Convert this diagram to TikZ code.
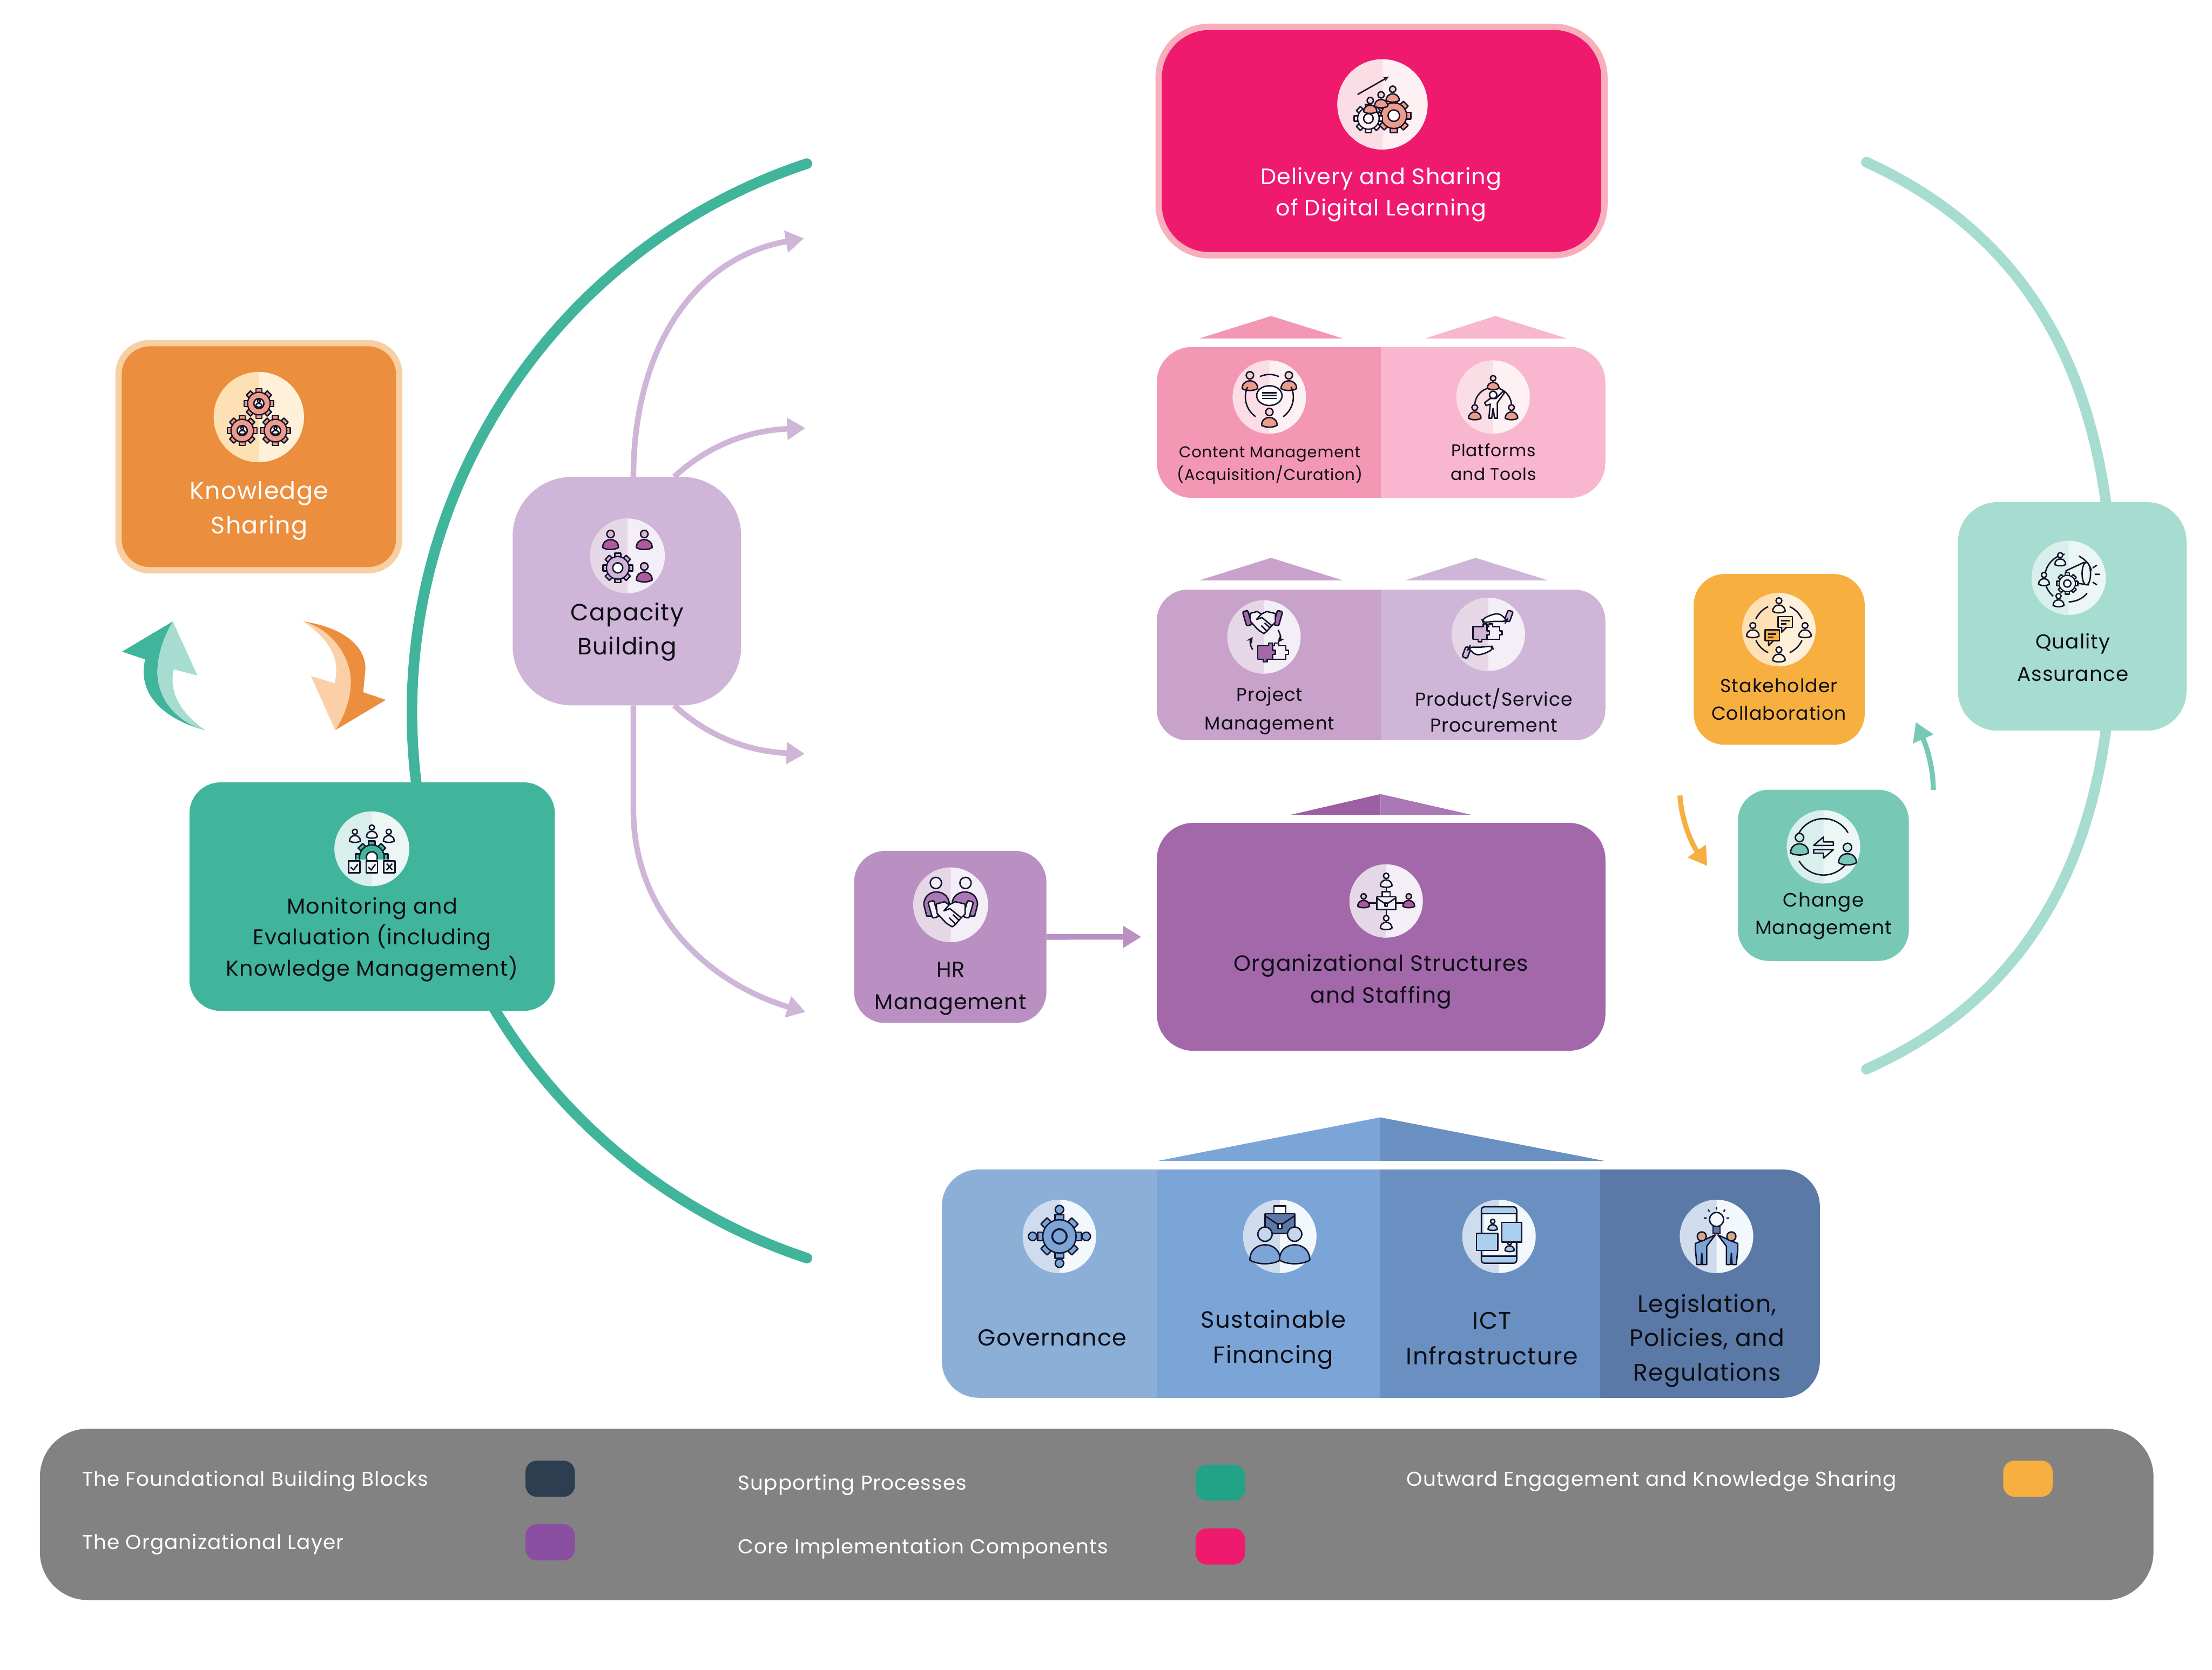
\documentclass[tikz,border=0pt]{standalone}
\usepackage{fontspec}
\setmainfont{Poppins}[LetterSpace=3]
\usetikzlibrary{arrows.meta,backgrounds}
\definecolor{iconink}{HTML}{14142B}
\definecolor{textink}{HTML}{0E0E16}
\definecolor{salmon}{HTML}{EE9C8A}
\definecolor{pinkmain}{HTML}{EF1A6E}
\definecolor{pinkedge}{HTML}{F9AEBB}
\definecolor{pinkmid}{HTML}{F397B4}
\definecolor{pinklite}{HTML}{F8B7CE}
\definecolor{pinkA}{HTML}{FBDDE6}
\definecolor{pinkB}{HTML}{FDF1F4}
\definecolor{orgmain}{HTML}{EB8E3D}
\definecolor{orgedge}{HTML}{F8CFA3}
\definecolor{orglite}{HTML}{FBCFA7}
\definecolor{orgA}{HTML}{FEE0B5}
\definecolor{orgB}{HTML}{FEF0D9}
\definecolor{amber}{HTML}{F7B040}
\definecolor{skin}{HTML}{D5A987}
\definecolor{teal}{HTML}{40B59B}
\definecolor{tealmid}{HTML}{77C9B5}
\definecolor{teallite}{HTML}{A7DCD0}
\definecolor{tealA}{HTML}{D9EFEB}
\definecolor{tealB}{HTML}{ECF7F5}
\definecolor{lilac}{HTML}{CFB5D7}
\definecolor{lilacmid}{HTML}{C8A2CA}
\definecolor{hrviolet}{HTML}{B990C1}
\definecolor{violet}{HTML}{A268AA}
\definecolor{violetdk}{HTML}{9B5FA2}
\definecolor{violetlt}{HTML}{AA78B4}
\definecolor{magenta}{HTML}{B05A9E}
\definecolor{lilacA}{HTML}{E6D7E7}
\definecolor{lilacB}{HTML}{F4EEF6}
\definecolor{blueA}{HTML}{8CAFD8}
\definecolor{blueB}{HTML}{7CA5D7}
\definecolor{blueC}{HTML}{6A8FC1}
\definecolor{blueD}{HTML}{5A79A6}
\definecolor{blueE}{HTML}{CFDCEE}
\definecolor{blueF}{HTML}{F3F8FD}
\definecolor{skyblue}{HTML}{A9CEEE}
\definecolor{legendgrey}{HTML}{828282}
\definecolor{keydark}{HTML}{2C3E50}
\definecolor{keygreen}{HTML}{22A387}
\definecolor{keypurple}{HTML}{8A4FA0}
\tikzset{
  box/.style={inner sep=0pt,outer sep=0pt},
  lbl/.style 2 args={align=center,inner sep=0pt,text=textink,font=\fontsize{#1}{#2}\selectfont},
  keytext/.style={anchor=west,inner sep=0pt,text=white,font=\fontsize{14.3}{16}\selectfont},
  keybox/.style={box,minimum width=35pt,minimum height=25.6pt,rounded corners=8pt},
  flow/.style={line width=4pt,draw=lilac,-{Triangle[length=13pt,width=15pt]}},
  iconline/.style={line width=1pt,draw=iconink,line join=round},
  pics/medal/.style n args={3}{code={
    \fill[#3] (0,0) circle (#1);
    \begin{scope}
      \clip (-#1,-#1) rectangle (0,#1);
      \fill[#2] (0,0) circle (#1);
    \end{scope}
  }},
  pics/person/.style={code={
    \draw[iconline,fill=white!55!#1] (0,-4.4) circle (2.6);
    \draw[iconline,fill=#1] (-5.5,5) .. controls (-5.5,-2.4) and (5.5,-2.4) .. (5.5,5) .. controls (3,6.8) and (-3,6.8) .. cycle;
  }},
  pics/gear/.style={code={
    \foreach \a in {0,45,...,315}
      \draw[iconline,fill=#1,rotate=\a] (-2,-10) rectangle (2,-6);
    \draw[iconline,fill=#1] (0,0) circle (7.6);
    \fill[#1] (0,0) circle (7.1);
    \draw[iconline,fill=white] (0,0) circle (3.4);
  }},
  pics/bubble/.style={code={
    \draw[iconline,fill=#1] (-6,-5) rectangle (6,4);
    \draw[iconline,fill=#1] (-3,4) -- (-3,8) -- (1,4);
    \draw[iconline] (-3.5,-1.6) -- (3.5,-1.6) (-3.5,1) -- (1,1);
  }},
  pics/briefcase/.style={code={
    \draw[iconline,fill=white] (-3,-9) rectangle (3,-5);
    \draw[iconline,fill=#1] (-7.5,-5) rectangle (7.5,5);
    \draw[iconline] (-7.5,-4) -- (0,1) -- (7.5,-4);
    \draw[iconline,fill=white] (-1,0) rectangle (1,2.5);
  }},
  pics/puzzle/.style 2 args={code={
    \draw[iconline,fill=#1] (-11,-5) -- (-3,-5) -- (-3,-7) -- (0,-7) -- (0,-5) -- (0,-1.5) -- (2,-1.5) -- (2,1.5) -- (0,1.5) -- (0,5) -- (-4,5) -- (-4,7) -- (-7,7) -- (-7,5) -- (-11,5) -- cycle;
    \draw[iconline,fill=#2] (0,-5) -- (1.5,-5) -- (1.5,-7) -- (4.5,-7) -- (4.5,-5) -- (10,-5) -- (10,-1.5) -- (12,-1.5) -- (12,1.5) -- (10,1.5) -- (10,5) -- (0,5) -- (0,1.5) -- (2,1.5) -- (2,-1.5) -- (0,-1.5) -- cycle;
  }},
  pics/handshake/.style 2 args={code={
    \draw[iconline,fill=#1,rounded corners=1pt,rotate around={16:(-11.5,-3.5)}] (-13.5,-9) rectangle (-9.5,2);
    \draw[iconline,fill=#1,rounded corners=1pt,rotate around={-16:(11.5,-3.5)}] (9.5,-9) rectangle (13.5,2);
    \draw[iconline,fill=#2] (-9.5,-7) -- (-4,-8.5) -- (-1,-6.5) -- (3,-8.5) -- (9.5,-7) -- (9.5,-0.5) -- (6,3) -- (3,6.5) -- (1,8) -- (-3,5.5) -- (-9,-1) -- cycle;
    \draw[iconline] (-1,-6.5) -- (-4.5,-2.5) -- (-0.5,-4) -- (7,2.2) (1.5,0) -- (5.5,3.8) (-1,2) -- (3,6);
  }},
  pics/openhand/.style={code={
    \draw[iconline,fill=#1,rounded corners=1pt,rotate around={-20:(10,-1)}] (8,-5) rectangle (12,3);
    \draw[iconline,fill=white,rounded corners=2.5pt] (8.5,2) -- (3,-3) -- (-3,-2) -- (-10,1.5) -- (-9,4) -- (-2,3) -- (8,3) -- cycle;
  }},
}
\begin{document}
\begin{tikzpicture}[x=1pt,y=-1pt,>=stealth]
  \useasboundingbox (0,0) rectangle (1568,1184);

  % boxes
  \node (delivery) [box,draw=pinkedge,line width=4.5pt,fill=pinkmain,rounded corners=36pt,minimum width=316pt,minimum height=162pt] at (979.3,100) {};
  \node (knowledge) [box,draw=orgedge,line width=4.5pt,fill=orgmain,rounded corners=22pt,minimum width=199pt,minimum height=161pt] at (183.5,323.8) {};
  \node (monitor) [box,fill=teal,rounded corners=22pt,minimum width=259pt,minimum height=162pt] at (263.8,635.7) {};
  \node (capacity) [box,fill=lilac,rounded corners=42pt,minimum width=162pt,minimum height=162pt] at (444.4,419.1) {};
  \node (hr) [box,fill=hrviolet,rounded corners=22pt,minimum width=136.3pt,minimum height=122pt] at (673.6,664.3) {};
  \node (org) [box,fill=violet,rounded corners=26pt,minimum width=318pt,minimum height=161.6pt] at (979,664.2) {};
  \node (quality) [box,fill=teallite,rounded corners=28pt,minimum width=162pt,minimum height=162pt] at (1468.9,437) {};
  \node (stake) [box,fill=amber,rounded corners=22pt,minimum width=121.2pt,minimum height=121.1pt] at (1261.2,467.5) {};
  \node (change) [box,fill=tealmid,rounded corners=22pt,minimum width=121.2pt,minimum height=121.4pt] at (1292.5,620.6) {};

  % split boxes
  \begin{scope}
    \clip [rounded corners=25pt] (820,246) rectangle (1138,353);
    \fill [pinkmid] (820,246) rectangle (979,353);
    \fill [pinklite] (979,246) rectangle (1138,353);
  \end{scope}
  \begin{scope}
    \clip [rounded corners=22pt] (820,418) rectangle (1138,525);
    \fill [lilacmid] (820,418) rectangle (979,525);
    \fill [lilac] (979,418) rectangle (1138,525);
  \end{scope}
  \begin{scope}
    \clip [rounded corners=26pt] (667.6,829.2) rectangle (1290,991);
    \fill [blueA] (667.6,829.2) rectangle (820,991);
    \fill [blueB] (820,829.2) rectangle (978.4,991);
    \fill [blueC] (978.4,829.2) rectangle (1134.2,991);
    \fill [blueD] (1134.2,829.2) rectangle (1290,991);
  \end{scope}

  % roofs
  \fill [pinkmid] (850,240) -- (901,224) -- (952,240) -- cycle;
  \fill [pinklite] (1010,240) -- (1060,224) -- (1111,240) -- cycle;
  \fill [lilacmid] (850,411.5) -- (901,395.5) -- (952,411.5) -- cycle;
  \fill [lilac] (996,411.5) -- (1046,395.5) -- (1097.5,411.5) -- cycle;
  \fill [violetdk] (915.3,577.6) -- (978.6,563) -- (978.6,577.6) -- cycle;
  \fill [violetlt] (978.6,577.6) -- (978.6,563) -- (1042.6,577.6) -- cycle;
  \fill [blueB] (820.5,823.1) -- (978.4,792.2) -- (978.4,823.1) -- cycle;
  \fill [blueC] (978.4,823.1) -- (978.4,792.2) -- (1137.6,823.1) -- cycle;

  % arcs and arrows behind the boxes
  \coordinate (meTop) at (572,116);
  \coordinate (meLeft) at (292,505);
  \coordinate (meBottom) at (572,892);
  \coordinate (qaTop) at (1323,115);
  \coordinate (qaRight) at (1498,437);
  \coordinate (qaBottom) at (1323,758);
  \coordinate (tipDelivery) at (570,169);
  \coordinate (tipContent) at (571,303.5);
  \coordinate (tipProject) at (570.5,534.5);
  \coordinate (tipOrg) at (571,717.5);
  \begin{scope}[on background layer]
    \draw [teal,line width=7.5pt,line cap=round] (meTop) .. controls (404.5,171.4) and (292,329) .. (meLeft) .. controls (292,681) and (404.5,836.6) .. (meBottom);
    \draw [teallite,line width=7.5pt,line cap=round] (qaTop) .. controls (1448,172) and (1498,282) .. (qaRight) .. controls (1498,592) and (1448,702) .. (qaBottom);
    \draw [flow] ([xshift=4.6pt]capacity.north) .. controls (449,250) and (490,183) .. (tipDelivery);
    \draw [flow] ([xshift=33.5pt]capacity.north) .. controls (505,313) and (535,305) .. (tipContent);
    \draw [flow] ([xshift=33.5pt]capacity.south) .. controls (505,525) and (535,533) .. (tipProject);
    \draw [flow] ([xshift=4.6pt]capacity.south) -- (449,574) .. controls (449,650) and (505,698) .. (tipOrg);
  \end{scope}
  \draw [flow,draw=hrviolet,shorten >=11pt] (hr) -- (org);

  \coordinate (amberFrom) at (1190.8,564);
  \coordinate (amberTip) at (1210.2,614);
  \coordinate (tealFrom) at (1370.4,560);
  \coordinate (tealTip) at (1358,512);
  \draw [amber,line width=3.6pt,-{Triangle[length=13pt,width=15pt]}] (amberFrom) .. controls (1192,582) and (1199,598) .. (amberTip);
  \draw [tealmid,line width=3.6pt,-{Triangle[length=13pt,width=15pt]}] (tealFrom) .. controls (1370.5,545) and (1366,530) .. (tealTip);

  % two tone arrows
  \fill [teal] (122.5,440.6) -- (86.5,462) -- (102.9,467.5) .. controls (97,492) and (116,510) .. (145.5,517.7) .. controls (125,505) and (111,490) .. (111.6,475.5) .. controls (112,462) and (117,450) .. cycle;
  \fill [teallite] (122.5,440.6) -- (140,479) -- (123.2,474.5) .. controls (119,492) and (130,507) .. (145.5,517.7) .. controls (125,512) and (111,495) .. (111.6,475.5) .. controls (112,462) and (117,450) .. cycle;
  \fill [orgmain] (214.9,440.6) .. controls (245,445) and (262,460) .. (258.6,478.6) -- (257.5,490.8) -- (273.5,496.2) -- (237.6,517.7) .. controls (244,508) and (249,495) .. (248.6,481.8) .. controls (248,465) and (235,450) .. cycle;
  \fill [orglite] (214.9,440.6) .. controls (235,446) and (248,465) .. (248.6,481.8) .. controls (249,495) and (244,508) .. (237.6,517.7) -- (220.4,479.3) -- (237.2,484.4) .. controls (242,466) and (232,452) .. cycle;

  % legend
  \node (legend) [box,fill=legendgrey,rounded corners=34pt,minimum width=1498.2pt,minimum height=121.5pt] at (777.4,1073.7) {};
  \node (keyFoundation) [keybox,fill=keydark] at (390,1048.4) {};
  \node (keyOrganization) [keybox,fill=keypurple] at (390,1093.5) {};
  \node (keySupport) [keybox,fill=keygreen] at (865,1051.2) {};
  \node (keyCore) [keybox,fill=pinkmain] at (865,1096.4) {};
  \node (keyOutward) [keybox,fill=amber] at (1437.5,1048.4) {};
  \node (txtFoundation) [keytext] at (58,1050) {The Foundational Building Blocks};
  \node (txtOrganization) [keytext] at (58,1095) {The Organizational Layer};
  \node (txtSupport) [keytext] at (523,1053) {Supporting Processes};
  \node (txtCore) [keytext] at (523,1098) {Core Implementation Components};
  \node (txtOutward) [keytext] at (997,1050) {Outward Engagement and Knowledge Sharing};

  % labels
  \node (deliveryText) [lbl={15.8}{22},text=white] at (979,138) {Delivery and Sharing\\of Digital Learning};
  \node (knowledgeText) [lbl={17}{24.5},text=white] at (183.7,362) {Knowledge\\Sharing};
  \node (monitorText) [lbl={15.2}{22},text=textink] at (263.8,666) {Monitoring and\\Evaluation (including\\Knowledge Management)};
  \node (capacityText) [lbl={16.7}{24}] at (444.5,448) {Capacity\\Building};
  \node (contentText) [lbl={11.1}{16}] at (900,330) {Content Management\\(Acquisition/Curation)};
  \node (platformsText) [lbl={12}{17}] at (1058.6,327.5) {Platforms\\and Tools};
  \node (projectText) [lbl={13}{20}] at (900,504) {Project\\Management};
  \node (productText) [lbl={13.3}{18}] at (1059,503.5) {Product/Service\\Procurement};
  \node (orgText) [lbl={15.6}{22.5}] at (979,696) {Organizational Structures\\and Staffing};
  \node (hrText) [lbl={15.2}{23}] at (673.9,701) {HR\\Management};
  \node (stakeText) [lbl={13.3}{19.6}] at (1261,496) {Stakeholder\\Collaboration};
  \node (changeText) [lbl={13.7}{19.6}] at (1292.6,649.5) {Change\\Management};
  \node (qualityText) [lbl={14.3}{22.7}] at (1469.3,466) {Quality\\Assurance};
  \node (govText) [lbl={16.4}{24}] at (745.9,948.5) {Governance};
  \node (finText) [lbl={16.6}{25}] at (902.6,950) {Sustainable\\Financing};
  \node (ictText) [lbl={17}{25}] at (1057.6,949) {ICT\\Infrastructure};
  \node (lawText) [lbl={16.9}{24.3}] at (1210,950.5) {Legislation,\\Policies, and\\Regulations};

  % icons
  \begin{scope}[shift={(980,74)}]
    \pic {medal={32}{pinkA}{pinkB}};
    \draw [iconline,-{Stealth[length=4pt]}] (-17.7,-7) -- (4.6,-19.7);
    \pic [scale=1.2] at (8,8) {gear=salmon};
    \pic at (-10,10) {gear=pinkB};
    \pic [scale=.85] at (-8.7,1) {person=salmon};
    \pic [scale=.85] at (-1,-3) {person=salmon};
    \pic [scale=.85] at (7.2,-7) {person=salmon};
  \end{scope}
  \begin{scope}[shift={(183.5,295.7)}]
    \pic {medal={32}{orgA}{orgB}};
    \foreach \gx/\gy in {0/-9.6,-11.8/9.6,11.8/9.6} {
      \pic [scale=1.05] at (\gx,\gy) {gear=salmon};
      \pic [scale=.4] at (\gx,\gy) {person=white};
    }
  \end{scope}
  \begin{scope}[shift={(899.8,281.5)}]
    \pic {medal={26}{pinkA}{pinkB}};
    \pic at (-13.8,-11) {person=salmon};
    \pic at (13.8,-11) {person=salmon};
    \pic at (0,15) {person=salmon};
    \draw [iconline] (-115:16) arc (-115:-65:16) (-25:17) arc (-25:55:17) (125:17) arc (125:205:17);
    \draw [iconline,fill=white] (0,-1) ellipse (9 and 7);
    \draw [iconline] (-5,-3) -- (5,-3) (-5,-1) -- (5,-1) (-5,1) -- (5,1);
  \end{scope}
  \begin{scope}[shift={(1058.4,281.5)}]
    \pic {medal={26}{pinkA}{pinkB}};
    \draw [iconline] (4.5,-6) arc (-70:-5:13) (-4.5,-6) arc (-110:-175:13);
    \pic [scale=.75] at (0,-10) {person=salmon};
    \pic [scale=.8] at (-13,11) {person=salmon};
    \pic [scale=.8] at (13,11) {person=salmon};
    \draw [iconline,fill=white] (0,-1.5) circle (2.6);
    \draw [iconline,fill=pinkB] (-6,4) -- (-2,1) -- (2,1) -- (7,-4) -- (8,-3) -- (3,4) -- (3,15) -- (1,15) -- (0,8) -- (-1,15) -- (-3,15) -- (-2,5) -- (-5,6) -- cycle;
  \end{scope}
  \begin{scope}[shift={(896,451.6)}]
    \pic {medal={26}{lilacA}{lilacB}};
    \pic [scale=.95] at (-1,-10) {handshake={violet}{lilacB}};
    \draw [iconline,->] (-8,9) .. controls (-10,6) and (-10,3) .. (-8,0);
    \draw [iconline,->] (10,-5) .. controls (12,-1) and (12,1) .. (10,4);
    \pic [scale=.95] at (6,11) {puzzle={violet}{lilacB}};
  \end{scope}
  \begin{scope}[shift={(1055,449.7)}]
    \pic {medal={26}{lilacA}{lilacB}};
    \pic [scale=.95] at (5,-12) {openhand=lilac};
    \pic [scale=.9] at (-1,-1) {puzzle={lilac}{lilacB}};
    \pic [scale=.95,rotate=180] at (-6,12) {openhand=lilac};
  \end{scope}
  \begin{scope}[shift={(982.6,638.8)}]
    \pic {medal={26}{lilacA}{lilacB}};
    \draw [iconline] (0,-14) -- (0,14) (-16,1.5) -- (16,1.5);
    \pic [scale=.75] at (0,-14.5) {person=lilacB};
    \pic [scale=.75] at (0,15.5) {person=lilacB};
    \pic [scale=.75] at (-16,0) {person=magenta};
    \pic [scale=.75] at (16,0) {person=magenta};
    \pic [scale=.9] at (0,1.5) {briefcase=lilacB};
  \end{scope}
  \begin{scope}[shift={(444.8,394.1)}]
    \pic {medal={26.5}{lilacA}{lilacB}};
    \pic [scale=1.02] at (-12,-11) {person=magenta};
    \pic [scale=1.02] at (11.9,-11) {person=magenta};
    \pic [scale=1.02] at (11.9,12) {person=magenta};
    \pic [scale=1.05] at (-6.9,8.5) {gear=lilac};
  \end{scope}
  \begin{scope}[shift={(673.9,641.5)}]
    \pic {medal={26.5}{lilacA}{lilacB}};
    \draw [iconline,fill=lilacB] (-10.5,-15.5) circle (4);
    \draw [iconline,fill=lilacB] (10.5,-15.5) circle (4);
    \draw [iconline,fill=violetlt] (-19,0) .. controls (-19,-12) and (-2,-12) .. (-1,-1) -- (-1,8) -- (-17,8) -- cycle;
    \draw [iconline,fill=violetlt] (19,0) .. controls (19,-12) and (2,-12) .. (1,-1) -- (1,8) -- (17,8) -- cycle;
    \pic [scale=1.08] at (0,7) {handshake={lilacB}{lilacB}};
  \end{scope}
  \begin{scope}[shift={(263.6,601.8)}]
    \pic {medal={26.5}{tealA}{tealB}};
    \pic [scale=.7] at (-12,-9) {person=tealB};
    \pic [scale=.7] at (12,-9) {person=tealB};
    \pic [scale=.7] at (0,-12) {person=tealB};
    \begin{scope}
      \clip (-16,-10) rectangle (16,7.5);
      \pic [scale=1.15] at (0,6) {gear=teal};
    \end{scope}
    \draw [iconline,fill=tealB] (-16.5,8.5) rectangle (-8.5,17);
    \draw [iconline,fill=tealB] (-4,8.5) rectangle (4,17);
    \draw [iconline,fill=tealB] (8.5,8.5) rectangle (16.5,17);
    \draw [iconline] (-15,13) -- (-13,15) -- (-10,11) (-2.5,13) -- (-.5,15) -- (2.5,11) (10.5,10.5) -- (14.5,15) (14.5,10.5) -- (10.5,15);
  \end{scope}
  \begin{scope}[shift={(1261,446.4)}]
    \pic {medal={26}{orgA}{orgB}};
    \draw [iconline] (-65:18) arc (-65:-25:18) (-115:18) arc (-115:-155:18) (25:18) arc (25:65:18) (115:18) arc (115:155:18);
    \pic [scale=.8] at (0,-17) {person=orgB};
    \pic [scale=.8] at (-18.5,.6) {person=orgB};
    \pic [scale=.8] at (18.5,.6) {person=orgB};
    \pic [scale=.8] at (0,17.8) {person=orgB};
    \pic [scale=.85] at (4.5,-5) {bubble=orgA};
    \pic [scale=.85] at (-4.8,4.5) {bubble=amber};
  \end{scope}
  \begin{scope}[shift={(1292.6,600.4)}]
    \pic {medal={26}{tealA}{tealB}};
    \draw [iconline] (-155:20) arc (-155:-30:20) (150:20) arc (150:30:20);
    \pic [scale=1.15] at (-17,-1.5) {person=tealmid};
    \pic [scale=1.15] at (17,5.5) {person=tealmid};
    \draw [iconline] (-7,-1) -- (0,-7) -- (0,-3.5) -- (7,-3.5) -- (7,-1) -- cycle (7,2) -- (0,8) -- (0,4.5) -- (-7,4.5) -- (-7,2) -- cycle;
  \end{scope}
  \begin{scope}[shift={(1466.4,409.7)}]
    \pic {medal={26.3}{tealA}{tealB}};
    \draw [iconline] (-18:17) arc (-18:-65:17) (-100:17) arc (-100:-170:17) (130:17) arc (130:170:17) (40:17) arc (40:90:17);
    \pic [scale=.7] at (-6,-13) {person=tealB};
    \pic [scale=.7] at (-17.5,1) {person=tealB};
    \pic [scale=.7] at (-7.2,16) {person=tealB};
    \draw [iconline,fill=tealB] (-2,-5) -- (11,-11) -- (14,5) -- (1,3) -- cycle;
    \draw [iconline,fill=tealB] (12.5,-3) ellipse (3 and 8);
    \draw [iconline] (17,-7) -- (20,-9) (18.5,-2.5) -- (22,-2.5) (17,3) -- (20,5);
    \pic [scale=.75] at (-1,4) {gear=tealB};
  \end{scope}
  \begin{scope}[shift={(751,876.6)}]
    \pic {medal={26}{blueE}{blueF}};
    \pic [scale=1.55] {gear=blueB};
    \draw [iconline,fill=blueB] (0,0) circle (5);
    \foreach \a in {0,90,180,270}
      \draw [iconline,fill=blueB] (\a:19) circle (3);
  \end{scope}
  \begin{scope}[shift={(907.2,876.6)}]
    \pic {medal={26}{blueE}{blueF}};
    \pic [scale=1.4] at (0,-9) {briefcase=blueD};
    \pic [scale=1.95] at (-10.5,7) {person=blueB};
    \pic [scale=1.95] at (10.5,7) {person=blueB};
  \end{scope}
  \begin{scope}[shift={(1062.6,876.6)}]
    \pic {medal={26}{blueE}{blueF}};
    \draw [iconline,fill=skyblue,rounded corners=2pt] (-12.5,-21) rectangle (12.5,19);
    \fill [blueF] (-11,-16) rectangle (11,14);
    \draw [iconline] (-12.5,-16) -- (12.5,-16) (-12.5,14) -- (12.5,14);
    \pic [scale=.6] at (-4.5,-8) {person=skyblue};
    \pic [scale=.6] at (7.5,7) {person=skyblue};
    \draw [iconline,fill=skyblue] (2,-10) rectangle (16,4);
    \draw [iconline,fill=skyblue] (-16,-2) rectangle (-1,10);
  \end{scope}
  \begin{scope}[shift={(1216.8,876.6)}]
    \pic {medal={26}{blueE}{blueF}};
    \draw [iconline,fill=blueF] (0,-12) circle (5);
    \draw [iconline,fill=blueD] (-2.5,-7) rectangle (2.5,-2);
    \draw [iconline] (0,-21) -- (0,-19) (-6,-19) -- (-5,-17.5) (6,-19) -- (5,-17.5) (-9,-13) -- (-7,-13) (9,-13) -- (7,-13);
    \draw [iconline,fill=blueB] (-1,-1) -- (-7,7) -- (-7,20) -- (-10,20) -- (-10.5,12) -- (-11,20) -- (-14,20) -- (-15,9) -- (-15,5) -- (-10,3) -- cycle;
    \draw [iconline,fill=blueB] (1,-1) -- (7,7) -- (7,20) -- (10,20) -- (10.5,12) -- (11,20) -- (14,20) -- (15,9) -- (15,5) -- (10,3) -- cycle;
    \draw [iconline,fill=skin] (-10.5,0) circle (3.2);
    \draw [iconline,fill=skin] (10.5,0) circle (3.2);
  \end{scope}
\end{tikzpicture}
\end{document}
